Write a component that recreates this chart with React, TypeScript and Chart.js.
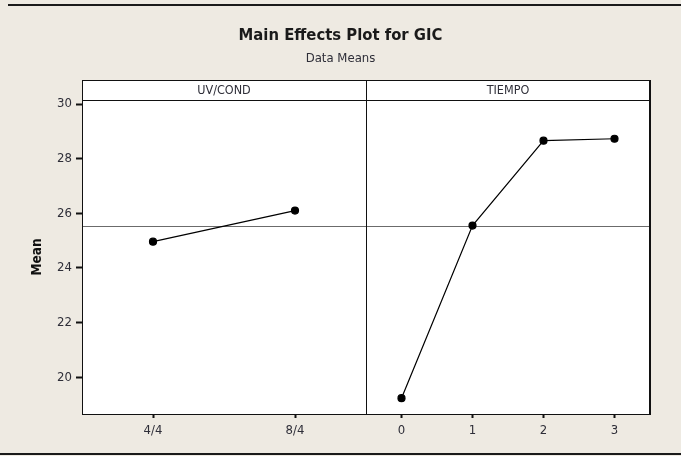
import React, { useEffect, useRef } from "react";
import { Chart, registerables } from "chart.js";

Chart.register(...registerables);

// Factor panels and their levels
const factors = ["UV/COND", "TIEMPO"];
const uvLevels = ["4/4", "8/4"];
const tiempoLevels = ["0", "1", "2", "3"];

// Mean GIC at each level
const uvMeans = [24.96, 26.1];
const tiempoMeans = [19.23, 25.55, 28.66, 28.73];

// Y axis ticks and range
const yTicks = [20, 22, 24, 26, 28, 30];
const yMin = 18.65;
const yMax = 30.15;

const FONT = "'DejaVu Sans Condensed', 'Liberation Sans Narrow', 'DejaVu Sans', sans-serif";
const PAGE_BG = "#eeeae2";
const TEXT = "#2e2e38";

const grandMean =
  [...uvMeans, ...tiempoMeans].reduce((a, b) => a + b, 0) / (uvMeans.length + tiempoMeans.length);

const panelPlugin = {
  id: "panelFrame",
  beforeDraw(chart: any) {
    const { ctx, chartArea: ca, width, height } = chart;
    ctx.save();
    ctx.fillStyle = PAGE_BG;
    ctx.fillRect(0, 0, width, height);
    ctx.fillStyle = "#ffffff";
    ctx.fillRect(ca.left, ca.top - 20, ca.right - ca.left, ca.bottom - ca.top + 20);
    ctx.restore();
  },
  beforeDatasetsDraw(chart: any) {
    const { ctx, chartArea: ca, scales } = chart;
    const y = Math.round(scales.y.getPixelForValue(grandMean)) + 0.5;
    ctx.save();
    ctx.strokeStyle = "#6b6b6b";
    ctx.lineWidth = 1;
    ctx.beginPath();
    ctx.moveTo(ca.left, y);
    ctx.lineTo(ca.right, y);
    ctx.stroke();
    ctx.restore();
  },
  afterDraw(chart: any) {
    const { ctx, chartArea: ca, scales, width, height } = chart;
    const top = ca.top - 20;
    const divX = Math.round(scales.x1.right) + 0.5;
    ctx.save();
    ctx.strokeStyle = "#111111";
    ctx.lineWidth = 1;
    ctx.beginPath();
    // header box + panel frame
    ctx.moveTo(ca.left + 0.5, top + 0.5);
    ctx.lineTo(ca.right, top + 0.5);
    ctx.moveTo(ca.left + 0.5, ca.top + 0.5);
    ctx.lineTo(ca.right, ca.top + 0.5);
    ctx.moveTo(ca.left + 0.5, top);
    ctx.lineTo(ca.left + 0.5, ca.bottom);
    ctx.moveTo(divX, top);
    ctx.lineTo(divX, ca.bottom);
    ctx.stroke();
    ctx.lineWidth = 2;
    ctx.beginPath();
    ctx.moveTo(ca.right, top);
    ctx.lineTo(ca.right, ca.bottom + 1);
    ctx.stroke();

    // panel headers
    ctx.fillStyle = TEXT;
    ctx.font = `12.5px ${FONT}`;
    ctx.textAlign = "center";
    ctx.textBaseline = "middle";
    const panels = [scales.x1, scales.x2];
    panels.forEach((s: any, i: number) => {
      ctx.fillText(factors[i], (s.left + s.right) / 2, top + 10.5);
    });

    // page rules
    ctx.strokeStyle = "#1a1a1a";
    ctx.lineWidth = 2;
    ctx.beginPath();
    ctx.moveTo(8, 5);
    ctx.lineTo(width, 5);
    ctx.moveTo(0, height - 2);
    ctx.lineTo(width, height - 2);
    ctx.stroke();
    ctx.restore();
  },
};

export default function App() {
  const ref = useRef<HTMLCanvasElement>(null);

  useEffect(() => {
    document.body.style.margin = "0";
    const canvas = ref.current;
    if (!canvas) return;

    const lineStyle = {
      borderColor: "#000000",
      backgroundColor: "#000000",
      borderWidth: 1.2,
      pointRadius: 3.5,
      pointHoverRadius: 3.5,
      pointBackgroundColor: "#000000",
      pointBorderColor: "#000000",
      tension: 0,
    };

    const xAxis = (labels: string[]) => ({
      type: "category" as const,
      labels,
      position: "bottom" as const,
      stack: "panels",
      stackWeight: 1,
      offset: true,
      border: { display: true, color: "#111111", width: 1 },
      grid: {
        display: true,
        drawOnChartArea: false,
        drawTicks: true,
        tickLength: 4,
        tickWidth: 2,
        tickColor: "#111111",
        offset: false,
      },
      ticks: { color: TEXT, font: { family: FONT, size: 13 }, padding: 5 },
      afterFit: (s: any) => {
        s.height = 42;
      },
    });

    const chart = new Chart(canvas, {
      type: "line",
      data: {
        datasets: [
          {
            label: factors[0],
            xAxisID: "x1",
            yAxisID: "y",
            data: uvLevels.map((l, i) => ({ x: l, y: uvMeans[i] })),
            ...lineStyle,
          },
          {
            label: factors[1],
            xAxisID: "x2",
            yAxisID: "y",
            data: tiempoLevels.map((l, i) => ({ x: l, y: tiempoMeans[i] })),
            ...lineStyle,
          },
        ],
      },
      options: {
        responsive: false,
        animation: false,
        layout: { padding: 0 },
        plugins: {
          legend: { display: false },
          tooltip: { enabled: false },
          title: {
            display: true,
            text: "Main Effects Plot for GIC",
            color: "#1a1a1a",
            font: { family: FONT, size: 16.5, weight: "bold", lineHeight: 1.2 },
            padding: { top: 26.1, bottom: 5 },
          },
          subtitle: {
            display: true,
            text: "Data Means",
            color: TEXT,
            font: { family: FONT, size: 13, lineHeight: 1.2 },
            padding: { top: 0, bottom: 33.5 },
          },
        },
        scales: {
          x1: xAxis(uvLevels),
          x2: xAxis(tiempoLevels),
          y: {
            type: "linear",
            min: yMin,
            max: yMax,
            afterBuildTicks: (s: any) => {
              s.ticks = yTicks.map((v) => ({ value: v }));
            },
            afterFit: (s: any) => {
              s.width = 82;
            },
            border: { display: true, color: "#111111", width: 1 },
            grid: {
              display: true,
              drawOnChartArea: false,
              drawTicks: true,
              tickLength: 6,
              tickWidth: 2,
              tickColor: "#111111",
            },
            ticks: { color: TEXT, font: { family: FONT, size: 13 }, padding: 4 },
            title: {
              display: true,
              text: "Mean",
              color: "#111111",
              font: { family: FONT, size: 13.5, weight: "bold", lineHeight: 1.2 },
              padding: { top: 29, bottom: 0 },
            },
          },
          // empty margin to the right of the panels
          yRight: {
            type: "linear",
            position: "right",
            display: true,
            min: yMin,
            max: yMax,
            grid: { display: false },
            border: { display: false },
            ticks: { display: false },
            afterFit: (s: any) => {
              s.width = 31;
            },
          },
        },
      },
      plugins: [panelPlugin],
    });

    return () => chart.destroy();
  }, []);

  return (
    <div style={{ width: 681, height: 456 }}>
      <canvas ref={ref} width={681} height={456} />
    </div>
  );
}
